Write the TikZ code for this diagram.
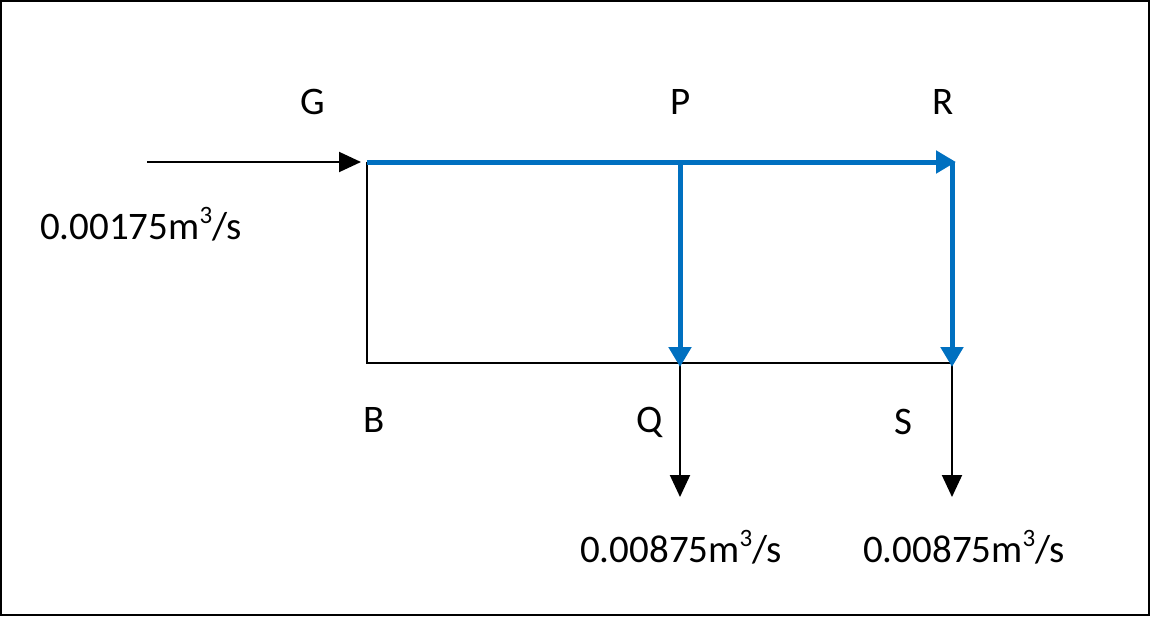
\documentclass[tikz,border=0pt]{standalone}
\usepackage{fontspec}
\setmainfont{Carlito}
\usetikzlibrary{arrows.meta}
\definecolor{flowblue}{HTML}{0070C0}
\newcommand{\cubed}{\raisebox{0.42em}{\fontsize{25}{30}\selectfont 3}}
\tikzset{
  lbl/.style={font=\fontsize{39}{46}\selectfont, inner sep=0pt},
  qlbl/.style={font=\fontsize{39}{46}\selectfont, inner sep=0pt},
  blk/.style={draw=black, line width=2pt},
  blkarrow/.style={blk, -{Triangle[length=22pt,width=20pt]}},
  bluearrow/.style={draw=flowblue, line width=5pt, -{Triangle[length=20pt,width=22pt]}, shorten >=-4pt},
}
\begin{document}
\begin{tikzpicture}[x=1pt,y=-1pt]
\useasboundingbox (0,0) rectangle (1152,618);
\draw[line width=2pt] (1,1) rectangle (1149,615);
% junction points
\coordinate (in) at (147,162);
\coordinate (g) at (367,162);
\coordinate (p) at (680,162);
\coordinate (r) at (952,162);
\coordinate (b) at (367,363);
\coordinate (q) at (680,363);
\coordinate (s) at (952,363);
\coordinate (qo) at (680,497);
\coordinate (so) at (952,497);
% black lines
\draw[blk] (g) -- (b) -- (s);
\draw[blkarrow] (in) -- ([xshift=-6pt]g);
\draw[blkarrow] (q) -- (qo);
\draw[blkarrow] (s) -- (so);
% blue lines
\draw[bluearrow] (g) -- (r);
\draw[bluearrow] (p) -- (q);
\draw[bluearrow] (r) -- (s);
% labels
\node[lbl] (lG) at (313,102) {G};
\node[lbl] (lP) at (681,102) {P};
\node[lbl] (lR) at (943,102) {R};
\node[lbl] (lB) at (374,420) {B};
\node[lbl] (lQ) at (650,422) {Q};
\node[lbl] (lS) at (903,422) {S};
\node[qlbl] (fin) at (141,224) {0.00175m\cubed/s};
\node[qlbl] (fq) at (681,547) {0.00875m\cubed/s};
\node[qlbl] (fs) at (964,547) {0.00875m\cubed/s};
\end{tikzpicture}
\end{document}
